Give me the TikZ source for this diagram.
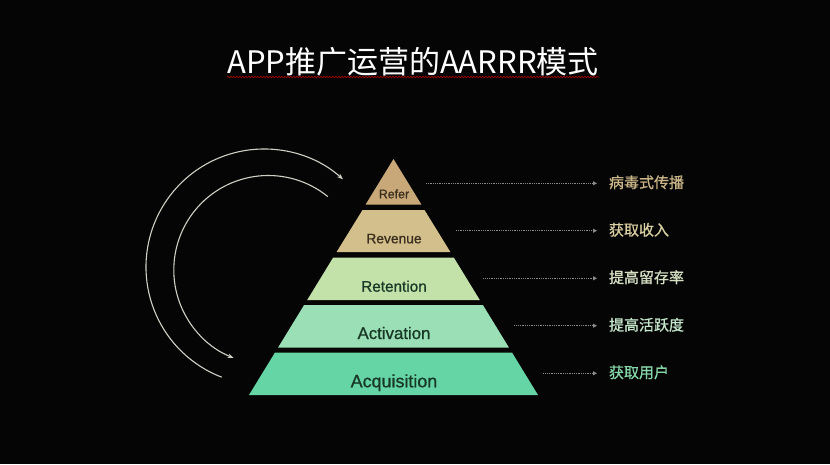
\documentclass[tikz,border=0pt]{standalone}
\usepackage{fontspec}
\setmainfont{Liberation Sans}
\newfontfamily\labfont[FakeBold=0.9]{Liberation Sans}
\newfontfamily\cjk{Noto Sans CJK SC}
\newfontfamily\cjkb[FakeBold=0.8]{Noto Sans CJK SC}
\usetikzlibrary{arrows.meta,decorations.pathmorphing}
\definecolor{bg}{HTML}{050505}
\definecolor{cRefer}{HTML}{C8A878}
\definecolor{cRevenue}{HTML}{D3BF8B}
\definecolor{cRetention}{HTML}{C2E2AA}
\definecolor{cActivation}{HTML}{9ADFB5}
\definecolor{cAcquisition}{HTML}{66D5A6}
\definecolor{tA}{HTML}{C9B487}
\definecolor{tB}{HTML}{D9CFA2}
\definecolor{tC}{HTML}{D5DFC2}
\definecolor{tD}{HTML}{C3E5C9}
\definecolor{tE}{HTML}{86D6A8}
\definecolor{labBrown}{HTML}{3A2F1E}
\definecolor{labGreen}{HTML}{183826}
\definecolor{arcCol}{HTML}{D0D0C4}
\definecolor{dotCol}{HTML}{8A8A8A}
\begin{document}
\begin{tikzpicture}[x=1pt,y=-1pt,
  lab/.style={inner sep=0pt, anchor=base},
  side/.style={inner sep=0pt, outer sep=0pt, anchor=base west, font=\cjkb\fontsize{15}{18}\selectfont},
  dotarrow/.style={draw=dotCol, line width=0.8pt, dash pattern=on 0.8pt off 1pt, shorten >=12pt,
    -{Triangle[length=4pt,width=4pt,fill=dotCol,sep=0pt]}},
  arcline/.style={draw=arcCol, line width=1.1pt},
]
\fill[bg] (0,0) rectangle (830,464);
\useasboundingbox (0,0) rectangle (830,464);

% title
\node[inner sep=0pt, anchor=base, text=white, font=\cjk\fontsize{31}{36}\selectfont] (title) at (413,73) {APP推广运营的AARRR模式};
\draw[red!65!black, line width=0.6pt, decorate, decoration={snake,amplitude=0.8pt,segment length=3pt}]
  ([yshift=-4pt]title.base west) -- ([yshift=-4pt]title.base east);

% pyramid bands
\fill[cRefer] (393.5,159) -- (421.4,204.5) -- (365.6,204.5) -- cycle;
\fill[cRevenue] (362.5,210) -- (424.5,210) -- (450.4,252) -- (336.6,252) -- cycle;
\fill[cRetention] (333.2,257.5) -- (453.8,257.5) -- (479.8,300) -- (307.2,300) -- cycle;
\fill[cActivation] (304.1,305) -- (482.9,305) -- (508.9,347.5) -- (278.1,347.5) -- cycle;
\fill[cAcquisition] (275,352.5) -- (512,352.5) -- (538,395) -- (249,395) -- cycle;

% band labels
\node[lab, text=labBrown, font=\labfont\fontsize{12.4}{14}\selectfont] (lRefer) at (394,198.3) {Refer};
\node[lab, text=labBrown, font=\labfont\fontsize{13.8}{16}\selectfont] (lRevenue) at (394,243.3) {Revenue};
\node[lab, text=labGreen, font=\labfont\fontsize{15.3}{18}\selectfont] (lRetention) at (394,291.7) {Retention};
\node[lab, text=labGreen, font=\labfont\fontsize{16.8}{20}\selectfont] (lActivation) at (394,339) {Activation};
\node[lab, text=labGreen, font=\labfont\fontsize{17.9}{21}\selectfont] (lAcquisition) at (394,387.3) {Acquisition};

% side texts
\node[side, text=tA] (t1) at (609,188) {病毒式传播};
\node[side, text=tB] (t2) at (609,235.5) {获取收入};
\node[side, text=tC] (t3) at (609,283) {提高留存率};
\node[side, text=tD] (t4) at (609,330.5) {提高活跃度};
\node[side, text=tE] (t5) at (609,378) {获取用户};

% dotted connectors
\coordinate (s1) at (426,183.3);
\coordinate (s2) at (456,230.7);
\coordinate (s3) at (483.3,278.3);
\coordinate (s4) at (514.3,325.7);
\coordinate (s5) at (543.3,373.3);
\draw[dotarrow] (s1) -- (s1 -| t1.west);
\draw[dotarrow] (s2) -- (s2 -| t2.west);
\draw[dotarrow] (s3) -- (s3 -| t3.west);
\draw[dotarrow] (s4) -- (s4 -| t4.west);
\draw[dotarrow] (s5) -- (s5 -| t5.west);

% cycle arcs
\coordinate (co) at (264,267);
\coordinate (ci) at (268.3,270);
\draw[arcline, -{Stealth[length=6pt,width=4.5pt]}]
  ([shift={(111:118)}]co) arc[start angle=111, end angle=312, radius=118];
\draw[arcline, -{Stealth[length=6pt,width=4.5pt]}]
  ([shift={(309:94.5)}]ci) arc[start angle=309, end angle=111.5, radius=94.5];
\end{tikzpicture}
\end{document}
